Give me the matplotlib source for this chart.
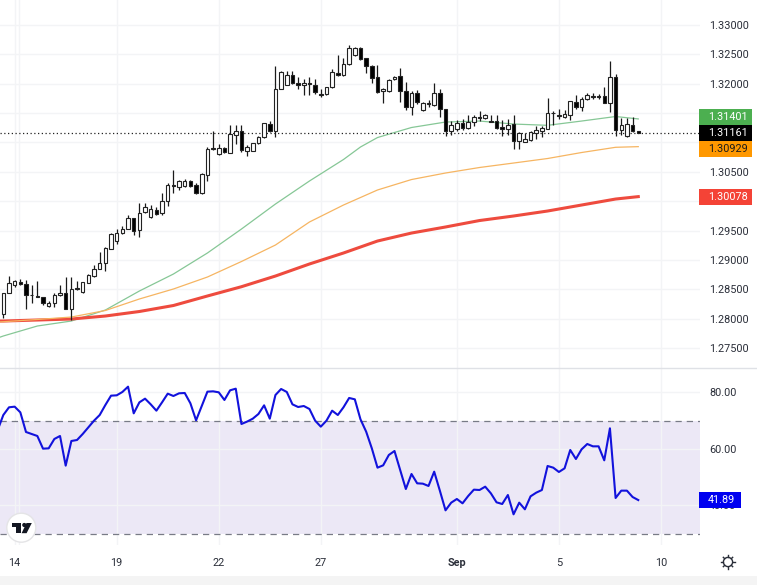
# GBPUSD style 4h candles with moving averages and RSI

import matplotlib
matplotlib.use("Agg")
import matplotlib.pyplot as plt
from matplotlib.patches import Circle, Polygon, Rectangle
import numpy as np

plt.rcParams['font.family'] = ['Roboto', 'DejaVu Sans']

opens = [1.28079,1.28442,1.28567,1.28630,1.28590,1.28408,1.28391,1.28374,1.28215,1.28261,
         1.28397,1.28431,1.28170,1.28522,1.28454,1.28613,1.28726,1.28851,1.28953,1.29191,
         1.29328,1.29453,1.29532,1.29714,1.29509,1.29816,1.29725,1.29850,1.29793,1.29997,
         1.30270,1.30247,1.30259,1.30338,1.30270,1.30134,1.30452,1.30900,1.30804,1.30911,
         1.30826,1.31133,1.31195,1.30860,1.30860,1.30985,1.31099,1.31309,1.31190,1.31916,
         1.31984,1.32143,1.32018,1.31978,1.32018,1.31978,1.31825,1.31825,1.31939,1.32177,
         1.32143,1.32336,1.32484,1.32608,1.32433,1.32302,1.32109,1.31871,1.31871,1.32075,
         1.32132,1.31882,1.31610,1.31837,1.31553,1.31678,1.31637,1.31836,1.31564,1.31189,
         1.31234,1.31325,1.31246,1.31348,1.31427,1.31410,1.31371,1.31371,1.31257,1.31223,
         1.31314,1.31030,1.31013,1.31041,1.31166,1.31200,1.31234,1.31507,1.31462,1.31427,
         1.31473,1.31689,1.31609,1.31734,1.31785,1.31785,1.31791,1.31677,1.32109,1.31212,
         1.31110,1.31303,1.31189]
highs = [1.28442,1.28726,1.28658,1.28681,1.28658,1.28578,1.28635,1.28374,1.28306,1.28431,
         1.28578,1.28703,1.28703,1.28647,1.28624,1.28760,1.28908,1.29135,1.29226,1.29453,
         1.29532,1.29577,1.29759,1.29714,1.29975,1.29963,1.29941,1.29895,1.30134,1.30304,
         1.30531,1.30361,1.30383,1.30361,1.30304,1.30486,1.30917,1.31190,1.30974,1.30928,
         1.31292,1.31292,1.31303,1.30951,1.30997,1.31110,1.31326,1.31371,1.32302,1.32223,
         1.32211,1.32223,1.32109,1.32075,1.32109,1.32075,1.31916,1.31950,1.32245,1.32484,
         1.32438,1.32665,1.32631,1.32620,1.32433,1.32325,1.32325,1.31927,1.32086,1.32132,
         1.32268,1.32030,1.31882,1.31893,1.31689,1.31723,1.32006,1.31904,1.31564,1.31371,
         1.31382,1.31393,1.31462,1.31462,1.31541,1.31484,1.31473,1.31462,1.31382,1.31405,
         1.31462,1.31178,1.31155,1.31189,1.31280,1.31280,1.31757,1.31541,1.31564,1.31552,
         1.31711,1.31802,1.31779,1.31847,1.31836,1.31825,1.31950,1.32381,1.32165,1.31416,
         1.31416,1.31427,1.31189]
lows = [1.28005,1.28431,1.28544,1.28567,1.28158,1.28261,1.28363,1.28232,1.28204,1.28192,
        1.28385,1.28158,1.27977,1.28488,1.28442,1.28613,1.28715,1.28851,1.28817,1.29191,
        1.29271,1.29441,1.29521,1.29430,1.29396,1.29804,1.29714,1.29759,1.29759,1.29918,
        1.30145,1.30190,1.30247,1.30236,1.30122,1.30122,1.30349,1.30872,1.30792,1.30826,
        1.30815,1.30974,1.30838,1.30769,1.30849,1.30974,1.31076,1.31178,1.31087,1.31905,
        1.31973,1.31995,1.31905,1.31814,1.31814,1.31825,1.31780,1.31814,1.31927,1.32132,
        1.32132,1.32325,1.32472,1.32404,1.32188,1.32007,1.31848,1.31678,1.31859,1.32064,
        1.31689,1.31553,1.31462,1.31655,1.31541,1.31610,1.31626,1.31439,1.31110,1.31121,
        1.31189,1.31212,1.31234,1.31280,1.31371,1.31405,1.31348,1.31234,1.31110,1.31121,
        1.30894,1.30883,1.31007,1.31030,1.31053,1.31087,1.31223,1.31291,1.31405,1.31416,
        1.31382,1.31564,1.31530,1.31723,1.31745,1.31745,1.31666,1.31518,1.31110,1.31121,
        1.31098,1.31178,1.31155]
closes = [1.28442,1.28613,1.28635,1.28584,1.28408,1.28397,1.28374,1.28261,1.28261,1.28397,
          1.28442,1.28170,1.28510,1.28505,1.28624,1.28737,1.28840,1.28953,1.29203,1.29441,
          1.29453,1.29532,1.29714,1.29498,1.29804,1.29907,1.29861,1.29782,1.29997,1.30281,
          1.30253,1.30338,1.30338,1.30259,1.30134,1.30463,1.30883,1.30883,1.30900,1.30838,
          1.31144,1.31190,1.30872,1.30917,1.30985,1.31099,1.31326,1.31195,1.31916,1.32194,
          1.32143,1.32007,1.31978,1.32018,1.31995,1.31854,1.31814,1.31939,1.32194,1.32143,
          1.32336,1.32608,1.32608,1.32416,1.32302,1.32098,1.31865,1.31905,1.32064,1.32120,
          1.31882,1.31610,1.31837,1.31689,1.31678,1.31655,1.31836,1.31564,1.31189,1.31291,
          1.31337,1.31246,1.31348,1.31427,1.31410,1.31467,1.31354,1.31246,1.31223,1.31303,
          1.31030,1.31155,1.31053,1.31178,1.31212,1.31246,1.31496,1.31496,1.31444,1.31484,
          1.31700,1.31609,1.31734,1.31802,1.31774,1.31774,1.31677,1.32109,1.31212,1.31303,
          1.31314,1.31189,1.31161]

ma_idx = [-1,0,6,12,18,24,30,36,42,48,54,60,63,66,69,72,78,84,90,96,102,108,112]
ma_green = [1.27671,1.27705,1.27875,1.27960,1.28147,1.28471,1.28760,1.29118,1.29526,1.29952,1.30344,
            1.30710,1.30923,1.31084,1.31170,1.31255,1.31348,1.31365,1.31314,1.31292,1.31365,1.31442,1.31401]
ma_idx2 = [-1,0,6,12,18,24,30,36,42,48,54,60,66,72,78,84,90,96,102,108,112]
ma_orange = [1.27943,1.27948,1.27986,1.28028,1.28139,1.28335,1.28505,1.28709,1.28973,1.29254,1.29646,
             1.29935,1.30191,1.30369,1.30480,1.30574,1.30650,1.30727,1.30829,1.30918,1.30929]
ma_red = [1.27960,1.27960,1.27977,1.27994,1.28045,1.28122,1.28224,1.28386,1.28544,1.28726,1.28931,
          1.29118,1.29322,1.29458,1.29561,1.29671,1.29748,1.29833,1.29935,1.30037,1.30078]

rsi = [66.67,71.97,74.69,74.92,72.9,65.96,65.25,64.55,60.07,60.18,63.49,64.55,54.06,62.78,63.13,65.25,
       67.61,69.97,71.97,75.51,78.81,78.93,80.11,81.99,72.56,76.45,77.75,75.74,73.5,76.45,79.52,78.69,
       79.64,79.75,76.1,70.09,75.15,80.22,80.34,79.99,77.28,80.7,81.28,68.79,69.64,70.67,72.33,75.39,
       70.67,79.04,81.17,80.11,75.74,74.8,75.15,74.09,69.97,67.85,69.97,73.5,71.97,74.69,77.99,77.51,
       70.44,66.08,60.18,53.35,54.17,57.83,59.24,52.52,45.8,51.11,47.81,47.69,46.87,51.93,45.22,38.26,
       40.97,42.27,40.74,43.33,45.57,45.45,46.63,44.27,41.09,40.5,43.68,36.85,40.97,38.62,43.21,44.51,
       45.45,53.94,53.35,51.82,53.11,59.6,56.41,59.83,61.72,60.89,60.89,55.94,67.26,42.62,45.22,45.22,
       42.97,41.89]

day_idx = [2,20,38,56,80,98,116]
day_labels = ['14','19','22','27','Sep','5','10']
price_ticks = [1.33,1.325,1.32,1.315,1.31,1.305,1.30,1.295,1.29,1.285,1.28,1.275]
rsi_ticks = [80,60,40]
last_price = 1.31161

W, H = 757, 585
fig = plt.figure(figsize=(W/100, H/100), dpi=100)

def px_axes(x0, y0, x1, y1):
    return fig.add_axes([x0/W, 1-y1/H, (x1-x0)/W, (y1-y0)/H])

ax = px_axes(0, 0, 699.5, 368)
ax2 = px_axes(0, 368, 699.5, 545)

grid = '#f3f4f6'
xlim = (-0.587, 122.8)
for a in [ax, ax2]:
    a.set_xlim(xlim)
    a.set_xticks(day_idx)
    a.grid(True, color=grid, lw=1)
    a.axvline(2.85, color=grid, lw=1)
    a.set_axisbelow(True)
    a.patch.set_alpha(0)
    for s in a.spines.values():
        s.set_visible(False)
    a.yaxis.tick_right()

ax.set_ylim(1.2716, 1.33426)
ax.set_yticks(price_ticks)
ax.set_yticklabels(['%.5f' % p for p in price_ticks])
ax.tick_params(axis='y', length=0, pad=6.8, labelsize=7.8, labelcolor='#2a2e39')
ax.tick_params(axis='x', length=0, labelbottom=False)

# moving averages sit under the candles
ax.plot(ma_idx, ma_green, color='#86c796', lw=0.9, zorder=2)
ax.plot(ma_idx2, ma_red, color='#ee4b3e', lw=2.2, zorder=2)
ax.plot(ma_idx2, ma_orange, color='#f6b562', lw=0.9, zorder=2)

ax.axhline(last_price, color='#222222', lw=0.9, ls=(0, (1, 2)), zorder=2)

x = np.arange(len(opens))
opens = np.array(opens)
closes = np.array(closes)
up = closes >= opens
ax.vlines(x, lows, highs, color='#1a1a1a', lw=0.9, zorder=3)
ax.bar(x, np.abs(closes-opens), bottom=np.minimum(opens, closes), width=0.62,
       color=np.where(up, 'white', 'black'), edgecolor='#222222', lw=0.8, zorder=4)

# rsi pane
ax2.set_ylim(26.0, 88.59)
ax2.set_yticks(rsi_ticks)
ax2.set_yticklabels(['%.2f' % v for v in rsi_ticks])
ax2.tick_params(axis='y', length=0, pad=6.8, labelsize=7.8, labelcolor='#2a2e39')
ax2.tick_params(axis='x', length=0, pad=9.5, labelsize=7.8, labelcolor='#2a2e39')
ax2.set_xticklabels(day_labels)
ax2.get_xticklabels()[4].set_fontweight('bold')
ax2.axhspan(30, 70, color='#ece8f6', lw=0, zorder=0.5)
ax2.axhline(70, color='#787b86', lw=0.9, ls=(0, (5, 4)), zorder=1.5)
ax2.axhline(30, color='#787b86', lw=0.9, ls=(0, (5, 4)), zorder=1.5)
ax2.plot(np.arange(-1, len(rsi)-1), rsi, color='#1212dc', lw=1.5, zorder=3)

# overlay in pixel coordinates: value tags and chrome
ov = fig.add_axes([0, 0, 1, 1], zorder=10)
ov.set_xlim(0, W)
ov.set_ylim(H, 0)
ov.axis('off')
ov.patch.set_alpha(0)

def tag(label, y0, y1, bg, fg, x1=751.5, xc=728):
    ov.add_patch(Rectangle((699.3, y0), x1-699.3, y1-y0, color=bg, lw=0))
    ov.text(xc, (y0+y1)/2+0.2, label, color=fg, fontsize=7.8, ha='center', va='center')

tag('1.31401', 109, 124.5, '#4caf50', 'white')
tag('1.31161', 124.5, 141, '#000000', 'white')
tag('1.30929', 141, 157, '#ff9800', '#1a1a1a')
tag('1.30078', 188.5, 204.5, '#f44336', 'white')
tag('41.89', 492, 507.5, '#0000f0', 'white', x1=741, xc=721.5)

ov.plot([0, W], [368, 368], color='#dfe1e6', lw=1)
ov.add_patch(Rectangle((0, 576), W, 9, color='#f4f4f4', lw=0))

# tradingview badge
ov.add_patch(Circle((21.3, 527.7), 14.5, fc='white', ec='#e4e4e6', lw=1, zorder=5))
ov.add_patch(Polygon([(11.7, 523), (21.3, 523), (21.3, 533.2), (16.4, 533.2), (16.4, 527.2), (11.7, 527.2)],
                     color='#131722', lw=0, zorder=6))
ov.add_patch(Circle((24.3, 525), 2.1, color='#131722', lw=0, zorder=6))
ov.add_patch(Polygon([(26.5, 523), (31.8, 523), (26.6, 533.2), (21.6, 533.2)], color='#131722', lw=0, zorder=6))

# settings gear
ov.add_patch(Circle((728, 562), 4.6, fc='none', ec='#2a2e39', lw=1))
for ang in np.arange(0, 2*np.pi, np.pi/4):
    ov.plot([728+4.6*np.cos(ang), 728+6.6*np.cos(ang)], [562+4.6*np.sin(ang), 562+6.6*np.sin(ang)],
            color='#2a2e39', lw=1)

fig.savefig('out.png', dpi=100, facecolor='white')
